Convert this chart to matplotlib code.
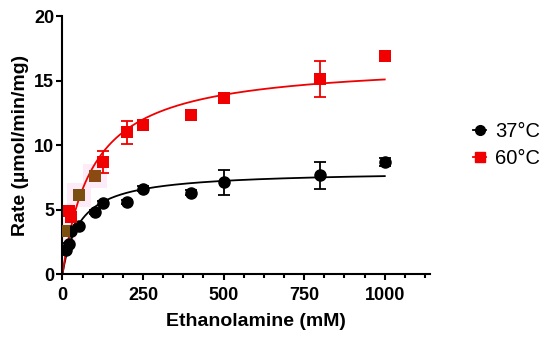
import numpy as np
import matplotlib
matplotlib.use('Agg')
import matplotlib.pyplot as plt
from matplotlib.ticker import MultipleLocator
from matplotlib.lines import Line2D

plt.rcParams['font.family'] = ['Liberation Sans', 'DejaVu Sans']

# 37 C data
x_37 = [10, 20, 25, 50, 100, 125, 200, 250, 400, 500, 800, 1000]
y_37 = [1.9, 2.3, 3.3, 3.7, 4.8, 5.5, 5.6, 6.6, 6.3, 7.1, 7.65, 8.7]
err_37 = [0.1, 0.1, 0.1, 0.1, 0.15, 0.15, 0.15, 0.2, 0.2, 1.0, 1.05, 0.3]

# 60 C data
x_60 = [5, 20, 25, 50, 100, 125, 200, 250, 400, 500, 800, 1000]
y_60 = [3.3, 4.9, 4.45, 6.1, 7.6, 8.7, 11.0, 11.55, 12.35, 13.65, 15.1, 16.9]
err_60 = [0.1, 0.2, 0.2, 0.1, 0.2, 0.85, 0.9, 0.3, 0.35, 0.3, 1.4, 0.35]
# some squares look brownish (blended) in the source image
col_60 = ['#7a5010', '#f00000', '#f00000', '#7a5010', '#8a4a12', '#f00000',
          '#f00000', '#f00000', '#f00000', '#f00000', '#f00000', '#f00000']

# Michaelis-Menten fit parameters (Vmax, Km)
fit_37 = (8.0, 54.0)
fit_60 = (16.5, 94.0)

labels = ['37°C', '60°C']
colors = ['black', '#f00000']

fig = plt.figure(figsize=(5.5, 3.38), dpi=100)
ax = fig.add_axes([0.1136, 0.1893, 0.668, 0.7633])

xs = np.linspace(0, 1000, 400)
for (vmax, km), c in zip([fit_37, fit_60], colors):
    ax.plot(xs, vmax * xs / (km + xs), color=c, lw=1.3, zorder=2)

# faint pink halo around the blended squares
halo = [i for i, c in enumerate(col_60) if c != '#f00000']
ax.scatter([x_60[i] for i in halo], [y_60[i] for i in halo], marker='s', s=300,
           color='#fdebf8', zorder=1, linewidths=0)

ax.errorbar(x_37, y_37, yerr=err_37, fmt='o', color=colors[0], ms=8,
            capsize=4, elinewidth=1.3, capthick=1.3, zorder=3)
ax.errorbar(x_60, y_60, yerr=err_60, fmt='none', ecolor=colors[1],
            capsize=4, elinewidth=1.3, capthick=1.3, zorder=3)
ax.scatter(x_60, y_60, marker='s', s=75, c=col_60, zorder=4, linewidths=0)

ax.set_xlim(0, 1140)
ax.set_ylim(0, 20)
ax.xaxis.set_major_locator(MultipleLocator(250))
ax.xaxis.set_minor_locator(MultipleLocator(62.5))
ax.yaxis.set_major_locator(MultipleLocator(5))
for s in ['top', 'right']:
    ax.spines[s].set_visible(False)
for s in ['left', 'bottom']:
    ax.spines[s].set_linewidth(1.5)
ax.tick_params(which='major', length=4, width=1.5, labelsize=13)
ax.tick_params(which='minor', length=3, width=1.5)
ax.tick_params(axis='x', pad=5)
ax.tick_params(axis='y', pad=2)
for t in ax.get_xticklabels() + ax.get_yticklabels():
    t.set_fontweight('bold')

ax.set_xlabel('Ethanolamine (mM)', fontsize=14, fontweight='bold')
ax.set_ylabel('Rate (µmol/min/mg)', fontsize=14, fontweight='bold')
ax.xaxis.set_label_coords(0.527, -0.15)
ax.yaxis.set_label_coords(-0.09, 0.5)

handles = [Line2D([], [], color=colors[0], marker='o', ms=7, lw=1.3),
           Line2D([], [], color=colors[1], marker='s', ms=7, lw=1.3)]
fig.legend(handles, labels, loc='center left', bbox_to_anchor=(0.835, 0.57),
           frameon=False, fontsize=14.5, handlelength=0.65, handletextpad=0.45,
           labelspacing=0.4, borderpad=0.2)

fig.savefig('out.png', dpi=100)
